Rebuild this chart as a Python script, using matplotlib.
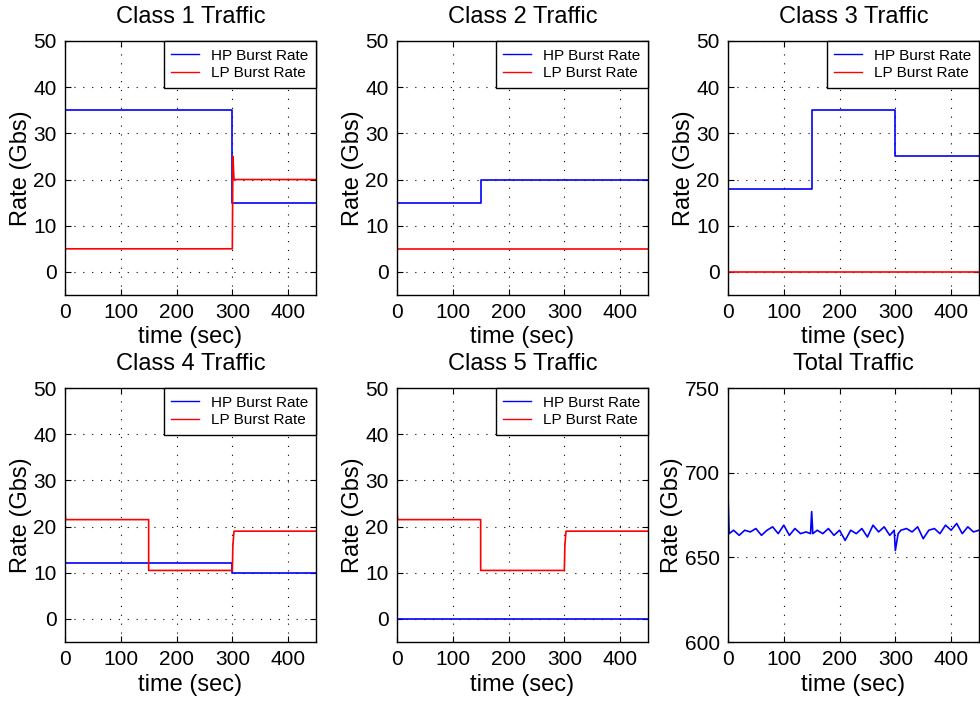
import matplotlib
matplotlib.use("Agg")
import matplotlib.pyplot as plt

plt.rcParams['font.family'] = ['Liberation Sans', 'DejaVu Sans']

# ---- data ----
titles = ["Class 1 Traffic", "Class 2 Traffic", "Class 3 Traffic",
          "Class 4 Traffic", "Class 5 Traffic"]

c1_hp_t = [0, 300, 300, 450]
c1_hp_v = [35, 35, 15, 15]
c1_lp_t = [0, 300, 301, 303, 450]
c1_lp_v = [5, 5, 25, 20, 20]

c2_hp_t = [0, 150, 150, 450]
c2_hp_v = [15, 15, 20, 20]
c2_lp_t = [0, 450]
c2_lp_v = [5, 5]

c3_hp_t = [0, 150, 150, 300, 300, 450]
c3_hp_v = [18, 18, 35, 35, 25, 25]
c3_lp_t = [0, 450]
c3_lp_v = [0, 0]

c4_hp_t = [0, 300, 300, 450]
c4_hp_v = [12, 12, 10, 10]
c4_lp_t = [0, 1, 150, 150, 300, 301, 303, 450]
c4_lp_v = [23.5, 21.5, 21.5, 10.5, 10.5, 16, 19, 19]

c5_hp_t = [0, 450]
c5_hp_v = [0, 0]
c5_lp_t = [0, 1, 150, 150, 300, 301, 303, 450]
c5_lp_v = [23.5, 21.5, 21.5, 10.5, 10.5, 16, 19, 19]

total_t = [0, 2, 10, 20, 30, 40, 50, 60, 70, 80, 90, 100, 110, 120, 130, 140,
           148, 150, 152, 160, 170, 180, 190, 200, 210, 220, 230, 240, 250,
           260, 270, 280, 290, 298, 300, 305, 310, 320, 330, 340, 350, 360,
           370, 380, 390, 400, 410, 420, 430, 440, 450]
total_v = [688, 664, 666, 663, 666, 665, 667, 663, 666, 668, 664, 669, 663,
           667, 664, 665, 664, 677, 664, 666, 664, 667, 663, 666, 660, 666,
           664, 667, 662, 669, 665, 668, 663, 666, 654, 664, 666, 667, 665,
           668, 661, 666, 667, 664, 669, 666, 670, 664, 668, 665, 666]

series = [
    (c1_hp_t, c1_hp_v, c1_lp_t, c1_lp_v),
    (c2_hp_t, c2_hp_v, c2_lp_t, c2_lp_v),
    (c3_hp_t, c3_hp_v, c3_lp_t, c3_lp_v),
    (c4_hp_t, c4_hp_v, c4_lp_t, c4_lp_v),
    (c5_hp_t, c5_hp_v, c5_lp_t, c5_lp_v),
]

x_ticks = [0, 100, 200, 300, 400]
class_y_ticks = [0, 10, 20, 30, 40, 50]
total_y_ticks = [600, 650, 700, 750]

# ---- layout ----
W, H = 980, 702
fig = plt.figure(figsize=(W / 100, H / 100), dpi=100)

lefts = [65, 397, 728]
tops = [41, 388]
aw, ah = 251, 254

def make_ax(col, row):
    l = lefts[col]
    t = tops[row]
    return fig.add_axes([l / W, (H - t - ah) / H, aw / W, ah / H])

def style(ax):
    ax.set_xlim(0, 450)
    ax.set_xticks(x_ticks)
    ax.grid(True, color='black', linestyle=(0, (1, 7)), linewidth=0.8)
    ax.tick_params(direction='in', length=4, labelsize=15, top=True, right=True,
                   width=0.8, pad=6)
    for s in ax.spines.values():
        s.set_linewidth(1.0)
    ax.set_xlabel("time (sec)", fontsize=17, labelpad=3)
    ax.set_ylabel("Rate (Gbs)", fontsize=17, labelpad=1)

blue = '#0000ff'
red = '#ff0000'

positions = [(0, 0), (1, 0), (2, 0), (0, 1), (1, 1)]
for i, (hp_t, hp_v, lp_t, lp_v) in enumerate(series):
    col, row = positions[i]
    ax = make_ax(col, row)
    ax.plot(hp_t, hp_v, color=blue, linewidth=1.2, label="HP Burst Rate")
    ax.plot(lp_t, lp_v, color=red, linewidth=1.2, label="LP Burst Rate")
    style(ax)
    ax.set_ylim(-5, 50)
    ax.set_yticks(class_y_ticks)
    ax.set_title(titles[i], fontsize=17, pad=13)
    leg = ax.legend(loc='upper right', fontsize=11, frameon=True, fancybox=False,
                    borderaxespad=0.0, handlelength=1.8, handletextpad=0.8,
                    borderpad=0.5, labelspacing=0.25)
    leg.get_frame().set_edgecolor('black')
    leg.get_frame().set_linewidth(1.0)
    leg.get_frame().set_alpha(1.0)
    for ln in leg.get_lines():
        ln.set_linewidth(1.0)

ax = make_ax(2, 1)
ax.plot(total_t, total_v, color=blue, linewidth=1.2)
style(ax)
ax.set_ylim(600, 750)
ax.set_yticks(total_y_ticks)
ax.set_title("Total Traffic", fontsize=17, pad=13)

fig.savefig("out.png", dpi=100)
